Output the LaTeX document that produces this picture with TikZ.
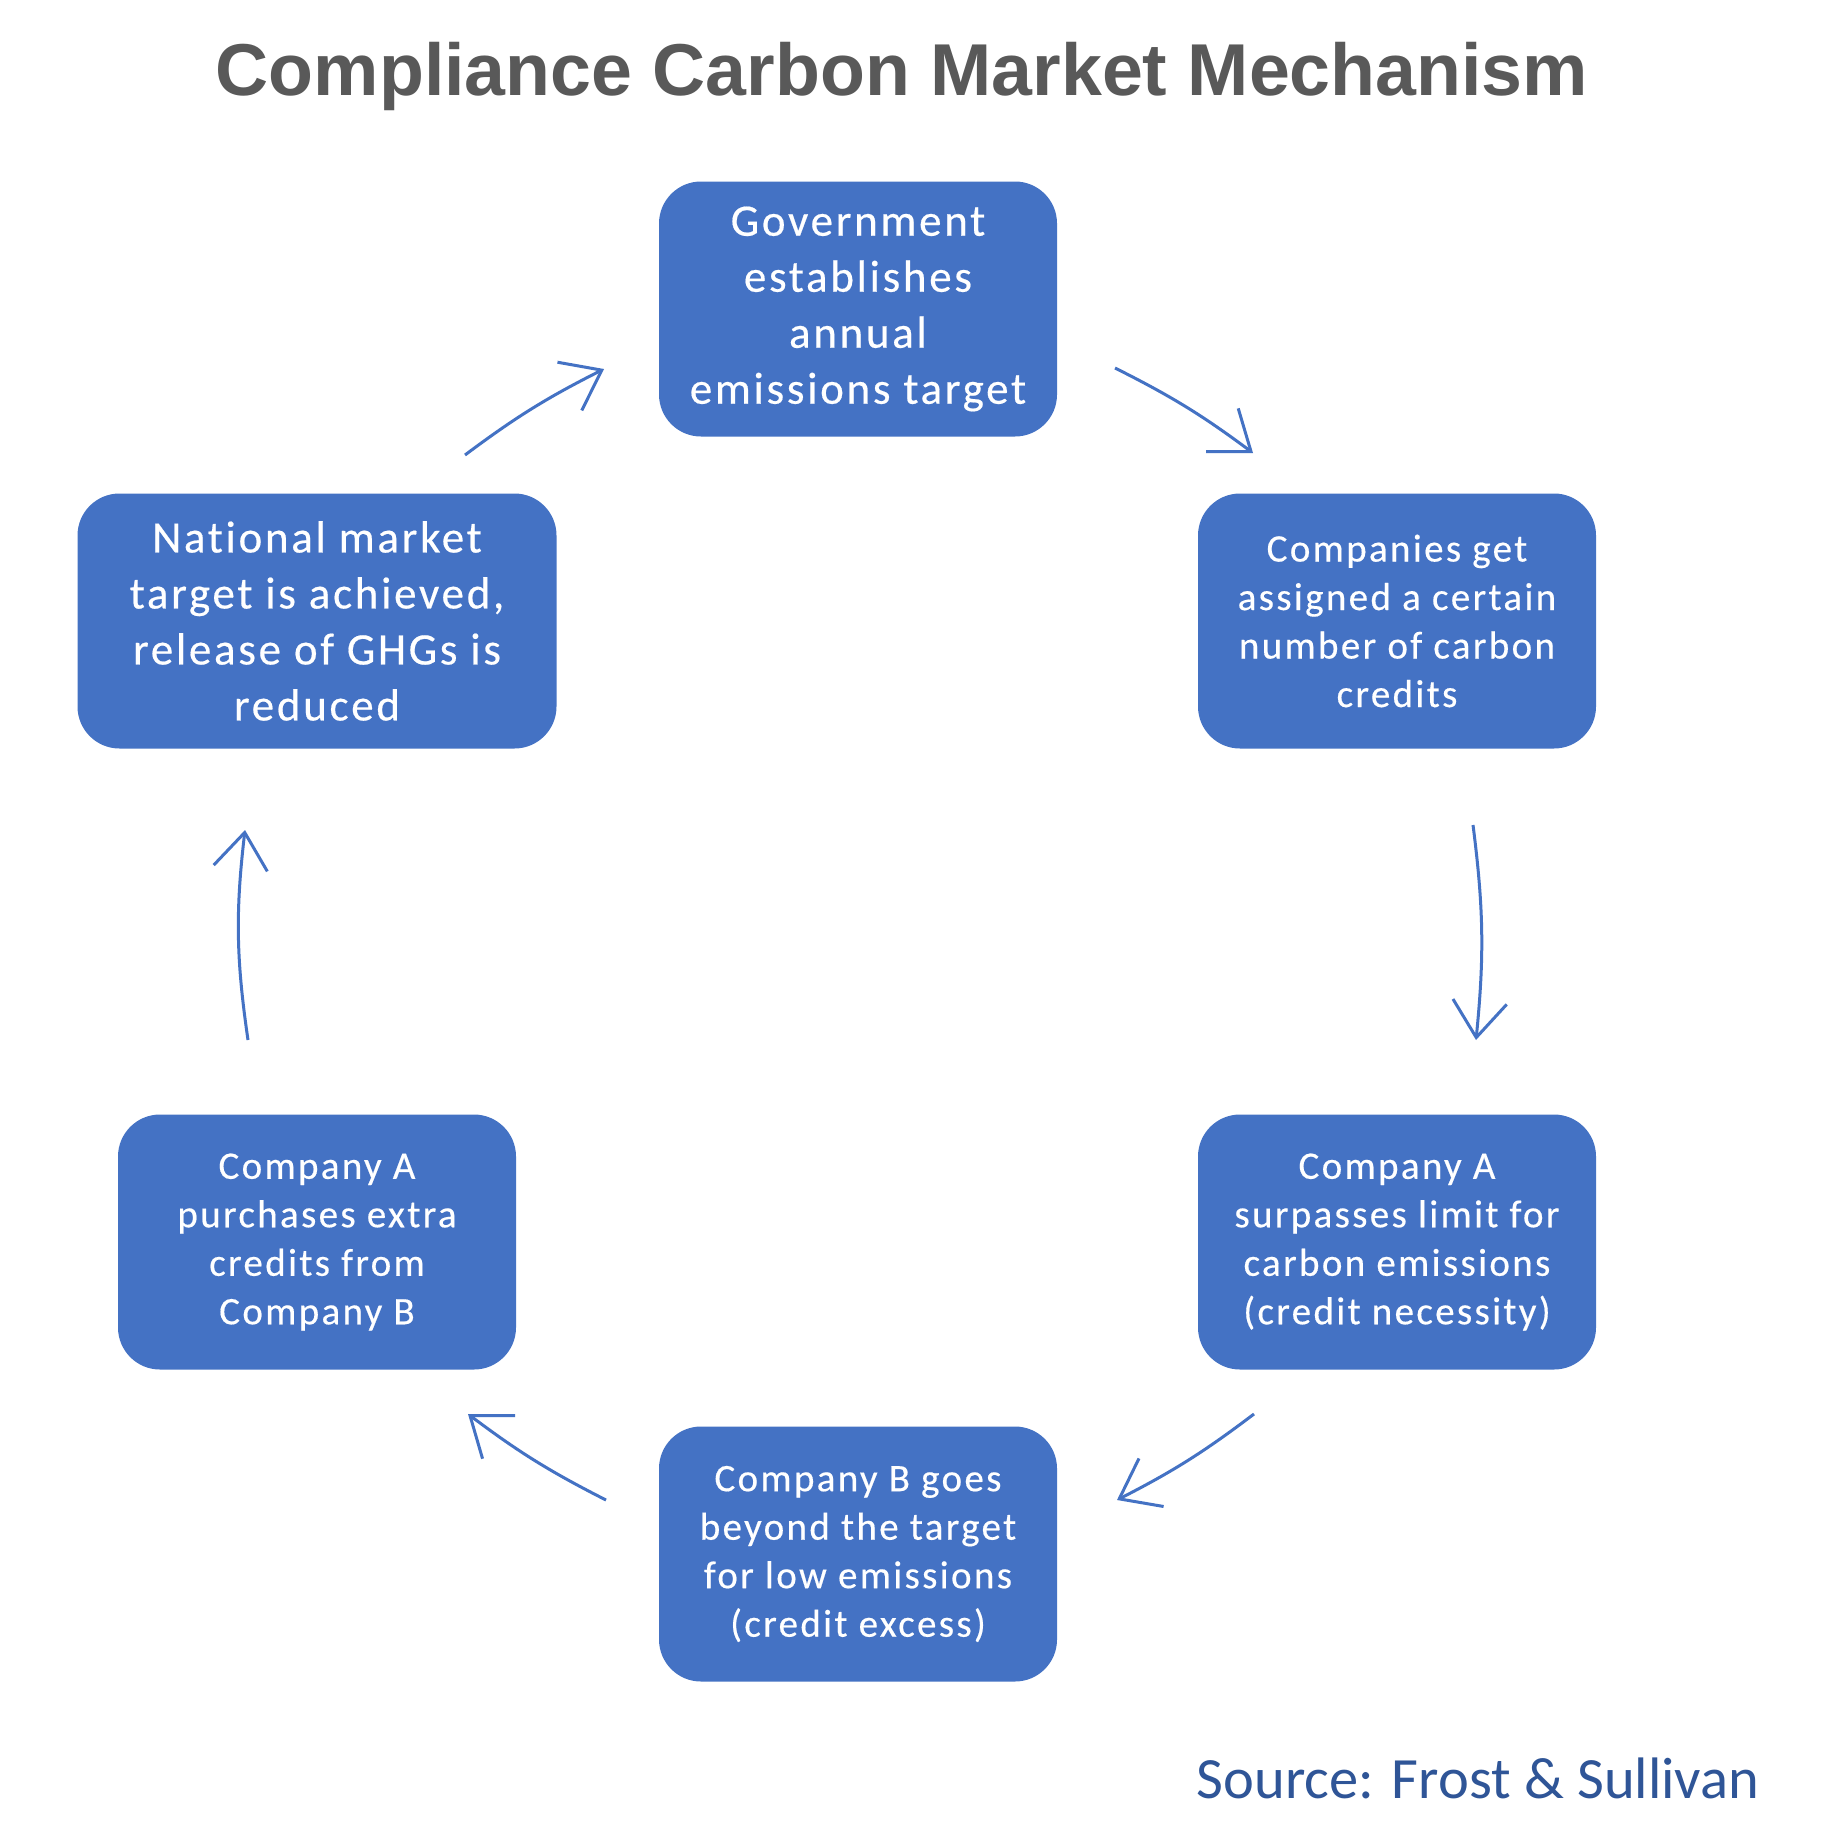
\documentclass[tikz,border=0pt]{standalone}
\usepackage{fontspec}
\setmainfont{Carlito}
\newfontfamily\boxfont[LetterSpace=6,Ligatures=NoCommon,FakeBold=0.4]{Carlito}
\newfontfamily\titlefont{Liberation Sans}
\usetikzlibrary{arrows.meta}
\definecolor{boxblue}{HTML}{4472C4}
\definecolor{titlegray}{HTML}{595959}
\definecolor{srcblue}{HTML}{2F5597}
\begin{document}
\begin{tikzpicture}[x=1pt,y=-1pt,
  box/.style={fill=boxblue, rounded corners=42pt, minimum height=255pt, inner sep=0pt, align=center, text=white},
  bigtxt/.style={font=\boxfont\fontsize{45}{56}\selectfont},
  smalltxt/.style={font=\boxfont\fontsize{39}{48.5}\selectfont},
  arr/.style={draw=boxblue, line width=3pt, -{Straight Barb[length=36pt,width=54pt,line width=3pt]}}]
\useasboundingbox (0,0) rectangle (1832,1833);
\fill[white] (0,0) rectangle (1832,1833);

\node[anchor=base, font=\titlefont\bfseries\fontsize{73.5}{88}\selectfont, text=titlegray] (title) at (902,96) {Compliance Carbon Market Mechanism};

\node[box,bigtxt,minimum width=398pt] (gov) at (858,309) {Government\\establishes\\annual\\emissions target};
\node[box,smalltxt,minimum width=398pt] (assign) at (1397,621) {Companies get\\assigned a certain\\number of carbon\\credits};
\node[box,smalltxt,minimum width=398pt] (surp) at (1397,1242) {Company A\\surpasses limit for\\carbon emissions\\(credit necessity)};
\node[box,smalltxt,minimum width=398pt] (beyond) at (858,1554) {Company B goes\\beyond the target\\for low emissions\\(credit excess)};
\node[box,smalltxt,minimum width=398pt] (purch) at (317,1242) {Company A\\purchases extra\\credits from\\Company B};
\node[box,bigtxt,minimum width=479pt] (nat) at (317,621) {National market\\target is achieved,\\release of GHGs is\\reduced};

\coordinate (a1s) at (465,455);
\coordinate (a1e) at (604,369);
\coordinate (a2s) at (1115,368);
\coordinate (a2e) at (1253,453);
\coordinate (a3s) at (1473,825);
\coordinate (a3e) at (1476,1040);
\coordinate (a4s) at (1254,1414);
\coordinate (a4e) at (1117,1500);
\coordinate (a5s) at (606,1500);
\coordinate (a5e) at (468,1414);
\coordinate (a6s) at (248,1040);
\coordinate (a6e) at (245,830);

\draw[arr] (a1s) to[bend left=5] (a1e);
\draw[arr] (a2s) to[bend left=5] (a2e);
\draw[arr] (a3s) to[bend left=6.5] (a3e);
\draw[arr] (a4s) to[bend left=5] (a4e);
\draw[arr] (a5s) to[bend left=5] (a5e);
\draw[arr] (a6s) to[bend left=7.5] (a6e);

\node[anchor=base east, font=\fontsize{58.5}{70}\selectfont, text=srcblue] (src) at (1763,1798) {Source: Frost \& Sullivan};
\end{tikzpicture}
\end{document}
